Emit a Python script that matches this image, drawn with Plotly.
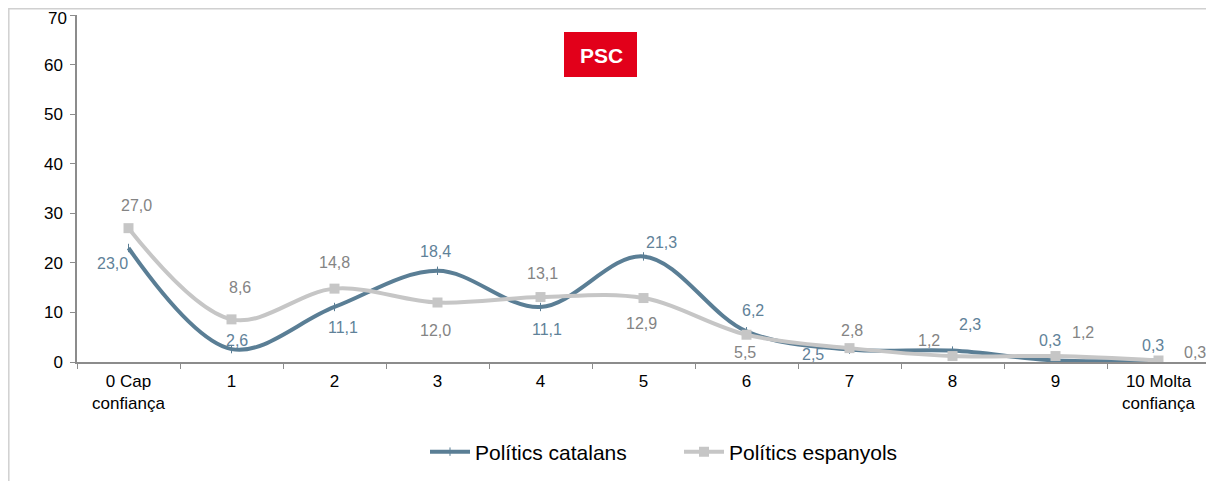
import plotly.graph_objects as go

categories = ["0 Cap<br>confiança", "1", "2", "3", "4", "5", "6", "7", "8", "9", "10 Molta<br>confiança"]
catalans = [23.0, 2.6, 11.1, 18.4, 11.1, 21.3, 6.2, 2.5, 2.3, 0.3, 0.3]
espanyols = [27.0, 8.6, 14.8, 12.0, 13.1, 12.9, 5.5, 2.8, 1.2, 1.2, 0.3]
series_names = ["Polítics catalans", "Polítics espanyols"]
y_ticks = [0, 10, 20, 30, 40, 50, 60, 70]

# label offsets (pixels) relative to each point
cat_dx = [-16, 5, 8, -2, 6, 18, 6, -37, 17, -6, -6]
cat_dy = [-16, 9, -21, 19, -23, 14, 21, -5, 26, 20, 15]
esp_dx = [8, 8, 0, -2, 2, -2, -2, 2, -24, 27, 36]
esp_dy = [23, 32, 26, -28, 24, -25, -18, 18, 16, 24, 8]

BLUE = "#5A7E95"
GRAY = "#C6C6C6"
BLUE_TXT = "#5F8299"
GRAY_TXT = "#848484"
FONT = "Arial, Liberation Sans, sans-serif"

# page body has an 8px margin: screen px -> plot-area-relative paper coords
PX0, PY0, PW, PH = 77, 362, 1133, 347
def px(xs):
    return (xs - PX0) / PW
def py(ys):
    return (PY0 - ys) / PH

fig = go.Figure()
fig.add_trace(go.Scatter(
    x=categories, y=catalans, name=series_names[0], mode="lines+markers",
    line=dict(color=BLUE, width=4, shape="spline", smoothing=1),
    marker=dict(symbol="line-ns", size=6, color=BLUE, line=dict(color=BLUE, width=1)),
))
fig.add_trace(go.Scatter(
    x=categories, y=espanyols, name=series_names[1], mode="lines+markers",
    line=dict(color=GRAY, width=4, shape="spline", smoothing=1),
    marker=dict(symbol="square", size=10, color=GRAY),
))

def fmt(v):
    return f"{v:.1f}".replace(".", ",")

for i, c in enumerate(categories):
    fig.add_annotation(x=c, y=catalans[i], text=fmt(catalans[i]), showarrow=False,
                       xshift=cat_dx[i], yshift=cat_dy[i],
                       font=dict(family=FONT, size=16, color=BLUE_TXT))
    fig.add_annotation(x=c, y=espanyols[i], text=fmt(espanyols[i]), showarrow=False,
                       xshift=esp_dx[i], yshift=esp_dy[i],
                       font=dict(family=FONT, size=16, color=GRAY_TXT))

# top y tick label (drawn as annotation so it is not dropped at the figure edge)
fig.add_annotation(xref="paper", yref="y", x=px(77 - 9), y=y_ticks[-1], text=str(y_ticks[-1]),
                   showarrow=False, xanchor="right", yanchor="top", yshift=7, borderpad=0,
                   font=dict(family=FONT, size=17, color="#000000"))

# PSC logo
fig.add_shape(type="rect", xref="paper", yref="paper",
              x0=px(564), x1=px(637), y0=py(77), y1=py(32),
              fillcolor="#E2001A", line=dict(width=0), layer="above")
fig.add_annotation(xref="paper", yref="paper", x=px(601), y=py(55),
                   text="<b>PSC</b>", showarrow=False, yanchor="middle",
                   font=dict(family=FONT, size=21, color="white"))

# outer border
fig.add_shape(type="rect", xref="paper", yref="paper",
              x0=px(8.8), x1=px(1211), y0=py(500), y1=py(8.8),
              line=dict(color="#D0D0D0", width=1.5), fillcolor="rgba(0,0,0,0)", layer="below")

fig.update_layout(
    width=1206, height=473,
    margin=dict(l=69, r=4, t=7, b=119, autoexpand=False),
    paper_bgcolor="white", plot_bgcolor="white",
    font=dict(family=FONT, size=16, color="#000000"),
    showlegend=True,
    legend=dict(orientation="h", x=px(425), xanchor="left", y=py(452), yanchor="middle",
                font=dict(family=FONT, size=21, color="#000000"),
                itemwidth=40, entrywidth=199, tracegroupgap=0),
    xaxis=dict(type="category", range=[-0.5, 10.5], showgrid=False, automargin=False,
               showline=True, linecolor="#8C8C8C", linewidth=1.5,
               ticks="outside", tickson="boundaries", ticklen=5, tickcolor="#8C8C8C",
               tickfont=dict(family=FONT, size=17, color="#000000"),
               ticklabelstandoff=3, fixedrange=True),
    yaxis=dict(range=[0, 70], tickvals=y_ticks, ticktext=[str(v) for v in y_ticks[:-1]] + [""],
               showgrid=False, zeroline=False, automargin=False,
               showline=True, linecolor="#8C8C8C", linewidth=1.5,
               ticks="outside", ticklen=5, tickcolor="#8C8C8C",
               tickfont=dict(family=FONT, size=17, color="#000000"),
               ticklabelstandoff=4, fixedrange=True),
)

fig.write_html("out.html")
